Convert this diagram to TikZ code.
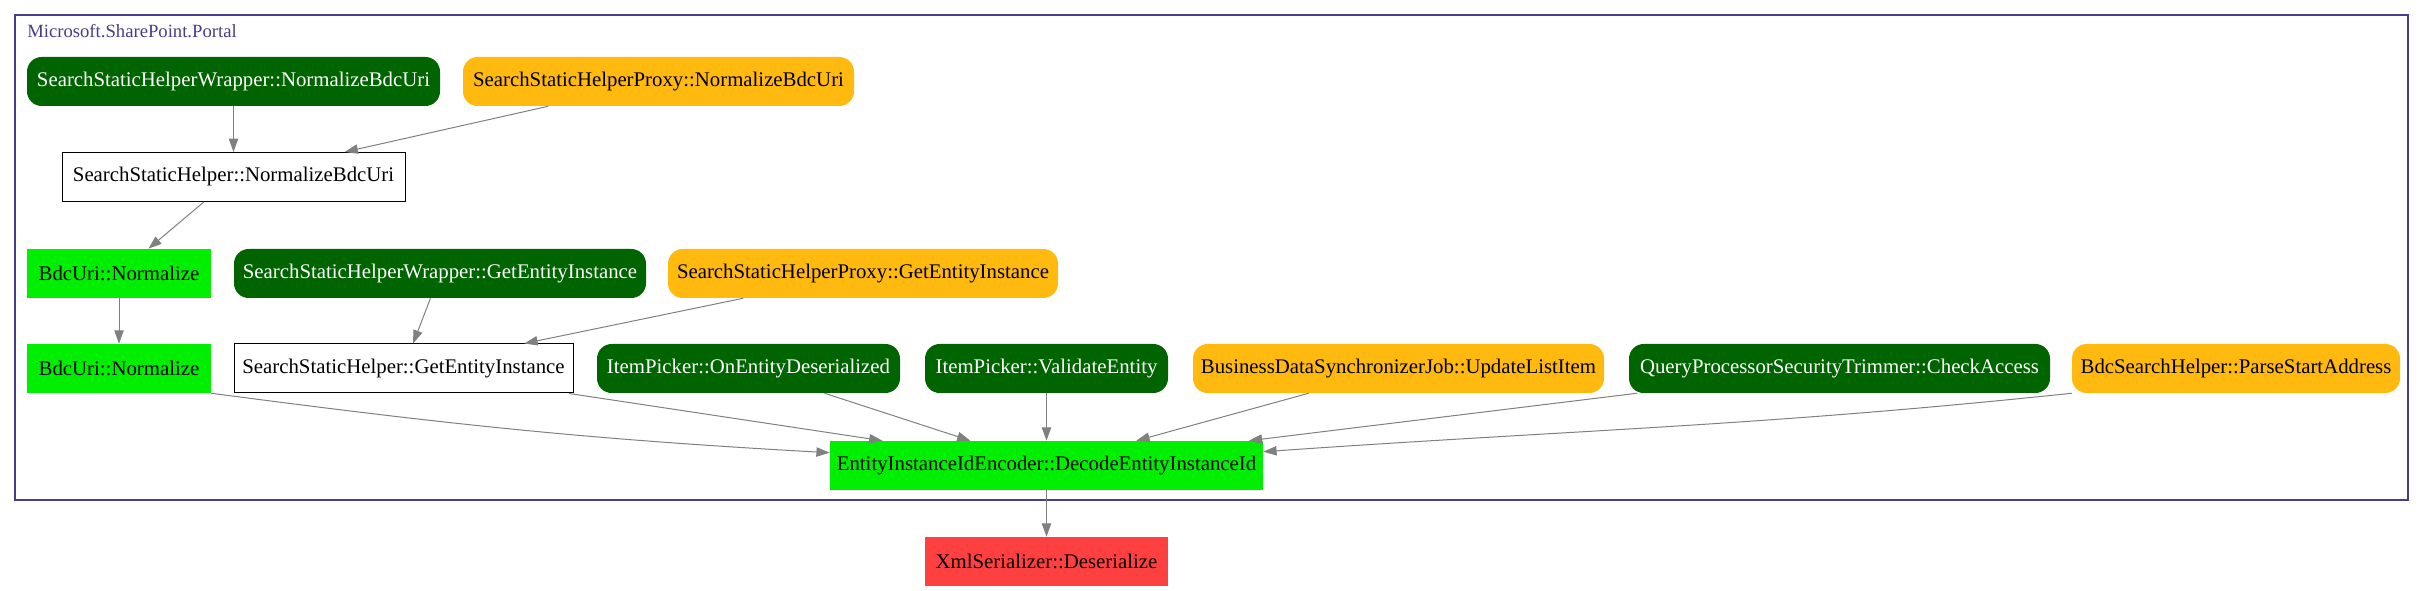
\documentclass[tikz,border=0pt]{standalone}
\usepackage{fontspec}
\setmainfont{Liberation Serif}
\usetikzlibrary{arrows.meta}

\definecolor{darkgr}{HTML}{006400}
\definecolor{amber}{HTML}{FFB90F}
\definecolor{brightgr}{HTML}{00EE00}
\definecolor{alarm}{HTML}{FF4040}
\definecolor{slate}{HTML}{483D8B}

\begin{document}
\begin{tikzpicture}[x=0.75pt, y=-0.75pt, font=\fontsize{15.6}{18}\selectfont,
  base/.style = {inner sep=0pt, minimum height=36.75pt},
  dark/.style = {base, fill=darkgr, text=white, rounded corners=11pt},
  amb/.style = {base, fill=amber, rounded corners=11pt},
  boxed/.style = {base, draw=black, line width=0.75pt},
  bright/.style = {base, fill=brightgr},
  alert/.style = {base, fill=alarm},
  link/.style = {draw=gray, line width=0.75pt, -{Triangle[length=10pt,width=7pt]}}]
\useasboundingbox (0,0) rectangle (2425,591);
% cluster frame
\draw[slate, line width=1.5pt] (15,15) rectangle (2408,500);
\node[slate, anchor=west, inner sep=0pt, font=\fontsize{14}{16}\selectfont] (title) at (27,31) {Microsoft.SharePoint.Portal};
% nodes
\node[dark, minimum width=309.75pt] (wnorm) at (233.5,81.5) {SearchStaticHelperWrapper::NormalizeBdcUri};
\node[amb, minimum width=293.25pt] (pnorm) at (658.5,81.5) {SearchStaticHelperProxy::NormalizeBdcUri};
\node[boxed, minimum width=257.25pt] (hnorm) at (233.5,177) {SearchStaticHelper::NormalizeBdcUri};
\node[bright, minimum width=138pt] (bdc1) at (119,273.5) {BdcUri::Normalize};
\node[dark, minimum width=309pt] (wget) at (440,273.5) {SearchStaticHelperWrapper::GetEntityInstance};
\node[amb, minimum width=292.5pt] (pget) at (863,273.5) {SearchStaticHelperProxy::GetEntityInstance};
\node[bright, minimum width=138pt] (bdc2) at (119,368.5) {BdcUri::Normalize};
\node[boxed, minimum width=254.25pt] (hget) at (403.5,368.5) {SearchStaticHelper::GetEntityInstance};
\node[dark, minimum width=227.25pt] (deser) at (748.5,368.5) {ItemPicker::OnEntityDeserialized};
\node[dark, minimum width=182.25pt] (valid) at (1046.5,368.5) {ItemPicker::ValidateEntity};
\node[amb, minimum width=308.25pt] (sync) at (1398.5,368.5) {BusinessDataSynchronizerJob::UpdateListItem};
\node[dark, minimum width=315.75pt] (trim) at (1839.5,368.5) {QueryProcessorSecurityTrimmer::CheckAccess};
\node[amb, minimum width=246pt] (parse) at (2236,368.5) {BdcSearchHelper::ParseStartAddress};
\node[bright, minimum width=324.75pt] (decode) at (1046.5,465.5) {EntityInstanceIdEncoder::DecodeEntityInstanceId};
\node[alert, minimum width=182.25pt] (xml) at (1046.5,561.5) {XmlSerializer::Deserialize};
% edges
\draw[link] (wnorm) -- (hnorm);
\draw[link] (pnorm) -- (hnorm);
\draw[link] (hnorm) -- (bdc1);
\draw[link] (bdc1) -- (bdc2);
\draw[link] (wget) -- (hget);
\draw[link] (pget) -- (hget);
\draw[link] (bdc2.south east) to[out=-7.5,in=176.8] ([yshift=-9pt]decode.north west);
\draw[link] (hget) -- (decode);
\draw[link] (deser) -- (decode);
\draw[link] (valid) -- (decode);
\draw[link] (sync) -- (decode);
\draw[link] (trim) -- (decode);
\draw[link] (parse.south west) to[out=186,in=4] ([yshift=-8.25pt]decode.north east);
\draw[link] (decode) -- (xml);
\end{tikzpicture}
\end{document}
